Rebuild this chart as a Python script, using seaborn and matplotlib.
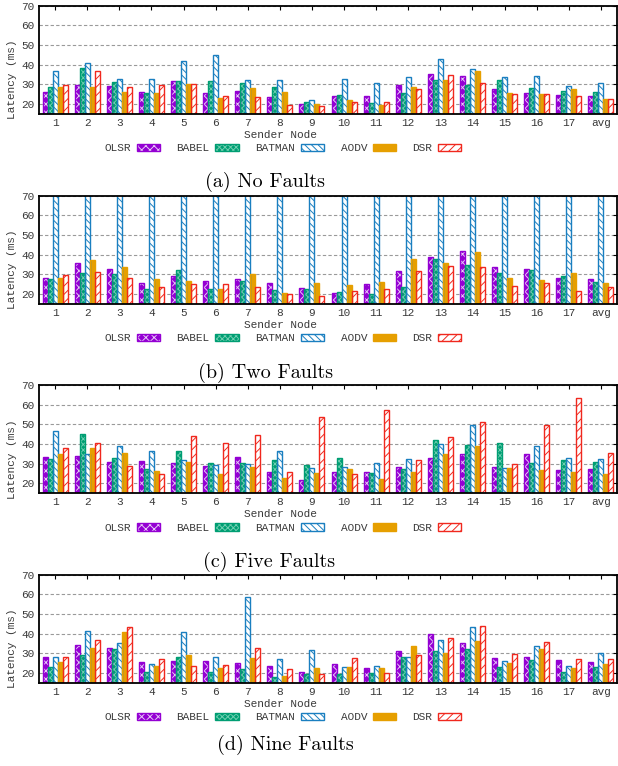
import matplotlib
matplotlib.use('Agg')
import matplotlib.pyplot as plt
import seaborn as sns
import pandas as pd
from matplotlib.legend_handler import HandlerTuple

# ---------------- data ----------------
nodes = ['1', '2', '3', '4', '5', '6', '7', '8', '9', '10', '11', '12', '13',
         '14', '15', '16', '17', 'avg']
protocols = ['OLSR', 'BABEL', 'BATMAN', 'AODV', 'DSR']

# (a) No Faults
olsr_a = [26.1, 29.6, 29.1, 26.1, 31.7, 25.6, 26.4, 23.5, 20.0, 23.9, 24.0, 29.8, 35.4, 34.2, 27.4, 25.7, 24.7, 24.0]
babel_a = [28.6, 38.2, 31.1, 25.6, 31.7, 31.7, 30.6, 28.6, 21.2, 24.4, 20.5, 25.6, 32.3, 29.8, 32.0, 28.1, 26.8, 25.9]
batman_a = [36.9, 40.6, 32.7, 32.7, 41.8, 44.7, 32.2, 32.2, 22.0, 32.5, 30.5, 33.7, 43.1, 37.6, 33.7, 34.0, 29.3, 30.6]
aodv_a = [28.4, 28.6, 26.2, 25.6, 30.0, 23.0, 28.1, 26.2, 19.7, 22.0, 19.2, 28.6, 32.0, 36.7, 25.6, 25.2, 27.4, 22.7]
dsr_a = [29.6, 36.5, 28.6, 29.6, 30.0, 24.2, 23.5, 19.5, 19.0, 21.2, 21.0, 27.8, 34.7, 30.6, 25.1, 25.1, 24.0, 22.7]

# (b) Two Faults (BATMAN is off the scale)
olsr_b = [28.1, 35.7, 32.7, 25.6, 29.2, 26.6, 27.6, 25.4, 22.9, 20.3, 24.8, 31.9, 38.6, 42.0, 33.7, 32.9, 28.1, 27.6]
babel_b = [27.6, 30.8, 30.0, 22.5, 32.0, 22.5, 26.6, 22.2, 22.5, 21.0, 20.0, 23.6, 37.8, 34.9, 30.7, 32.4, 29.3, 26.1]
batman_b = [75, 75, 75, 75, 75, 75, 75, 75, 75, 75, 75, 75, 75, 75, 75, 75, 75, 75]
aodv_b = [28.3, 37.0, 33.6, 27.6, 26.6, 22.5, 30.0, 20.2, 25.6, 24.6, 25.8, 37.8, 35.7, 41.5, 28.1, 27.3, 30.7, 25.6]
dsr_b = [29.7, 31.3, 28.1, 23.4, 24.9, 24.9, 23.6, 19.8, 19.0, 21.4, 22.5, 31.5, 34.2, 33.6, 23.9, 25.6, 21.4, 23.6]

# (c) Five Faults
olsr_c = [33.2, 33.9, 30.8, 31.5, 30.2, 28.8, 33.2, 25.6, 21.7, 25.6, 25.9, 28.6, 32.7, 34.9, 28.6, 34.9, 26.8, 27.1]
babel_c = [32.2, 44.9, 32.7, 27.1, 36.4, 30.2, 30.2, 31.7, 29.2, 32.7, 25.1, 27.1, 41.9, 39.5, 40.3, 30.3, 31.9, 31.0]
batman_c = [46.6, 35.1, 39.0, 36.4, 31.7, 29.3, 29.7, 36.4, 28.1, 28.6, 30.2, 32.5, 39.8, 49.7, 27.6, 38.8, 32.7, 32.2]
aodv_c = [34.9, 37.8, 35.4, 26.1, 30.7, 24.9, 28.6, 22.9, 25.1, 27.1, 22.2, 25.9, 34.9, 39.0, 28.1, 26.8, 25.8, 24.9]
dsr_c = [38.1, 40.3, 28.8, 24.6, 44.1, 40.7, 44.4, 25.6, 53.6, 24.6, 57.1, 31.7, 43.4, 51.0, 30.0, 49.7, 63.4, 35.3]

# (d) Nine Faults
olsr_d = [28.0, 34.1, 32.5, 25.4, 25.9, 25.9, 24.9, 23.4, 20.7, 24.4, 22.4, 31.0, 39.7, 35.1, 27.6, 28.1, 26.4, 25.6]
babel_d = [23.2, 29.2, 32.0, 20.5, 28.0, 20.2, 21.9, 17.8, 19.3, 19.3, 20.0, 28.0, 31.0, 32.0, 22.9, 26.4, 20.5, 22.9]
batman_d = [28.0, 41.2, 35.3, 24.4, 41.0, 28.0, 58.5, 27.3, 31.9, 23.2, 23.7, 28.0, 36.6, 43.2, 25.9, 33.6, 23.7, 30.0]
aodv_d = [25.3, 32.9, 41.0, 23.6, 29.3, 22.5, 27.5, 18.5, 22.4, 23.0, 22.4, 33.7, 30.3, 36.3, 25.1, 32.2, 22.4, 24.7]
dsr_d = [28.3, 36.6, 43.2, 26.9, 23.4, 23.9, 32.5, 22.2, 19.3, 27.5, 19.8, 29.2, 37.6, 43.7, 29.5, 35.6, 26.9, 26.9]

captions = ['(a) No Faults', '(b) Two Faults', '(c) Five Faults', '(d) Nine Faults']
yticks = [20, 30, 40, 50, 60, 70]

panels = [
    [olsr_a, babel_a, batman_a, aodv_a, dsr_a],
    [olsr_b, babel_b, batman_b, aodv_b, dsr_b],
    [olsr_c, babel_c, batman_c, aodv_c, dsr_c],
    [olsr_d, babel_d, batman_d, aodv_d, dsr_d],
]

# ---------------- style ----------------
sns.set_theme(style='white')
plt.rcParams['font.family'] = ['Liberation Mono', 'DejaVu Sans Mono']
plt.rcParams['hatch.linewidth'] = 0.7

colors = {'OLSR': '#9400D3', 'BABEL': '#009E73', 'BATMAN': '#1A7FC0',
          'AODV': '#E69F00', 'DSR': '#F0281E'}
# face colour, hatch colour, hatch pattern
fill_style = {
    'OLSR': ('#9400D3', '#E8C8F8', 'xxxx'),
    'BABEL': ('#009E73', '#6FCFB0', 'xxxxxx'),
    'BATMAN': ('white', '#1A7FC0', '\\\\\\\\\\'),
    'AODV': ('#E69F00', '#E69F00', ''),
    'DSR': ('white', '#F0281E', '////'),
}
text_color = '#3a3a3a'

W, H = 618, 766
fig = plt.figure(figsize=(W / 100, H / 100), dpi=100)

# axes boxes in pixels: (top, bottom)
boxes = [(5.7, 113.7), (195.7, 303.7), (385.0, 493.3), (574.7, 682.7)]
ax_left, ax_right = 39, 617
caption_pos = [(265, 182), (266, 373), (269, 562), (285, 745)]

for i, (vals, (top, bot)) in enumerate(zip(panels, boxes)):
    ax = fig.add_axes([ax_left / W, 1 - bot / H, (ax_right - ax_left) / W, (bot - top) / H])
    rows = []
    for prot, series in zip(protocols, vals):
        for n, v in zip(nodes, series):
            rows.append({'node': n, 'protocol': prot, 'latency': v})
    df = pd.DataFrame(rows)

    sns.barplot(data=df, x='node', y='latency', hue='protocol', order=nodes,
                hue_order=protocols, palette=colors, saturation=1, width=0.78,
                errorbar=None, legend=False, ax=ax)
    for prot, cont in zip(protocols, ax.containers[:5]):
        face, hc, hatch = fill_style[prot]
        for p in cont:
            p.set_facecolor(face)
            p.set_edgecolor(hc)
            p.set_hatch(hatch)
            p.set_linewidth(0)
    sns.barplot(data=df, x='node', y='latency', hue='protocol', order=nodes,
                hue_order=protocols, palette=colors, saturation=1, width=0.78,
                errorbar=None, legend=False, fill=False, linewidth=1.0, ax=ax)

    ax.set_xlim(-0.5, 17.5)
    ax.set_ylim(15, 70)
    ax.set_yticks(yticks)
    ax.set_axisbelow(True)
    ax.yaxis.grid(True, linestyle=(0, (3, 2)), color='#9a9a9a', linewidth=0.8)
    ax.xaxis.grid(False)
    for s in ax.spines.values():
        s.set_color('black')
        s.set_linewidth(1.3)
    ax.tick_params(direction='in', length=3, width=0.8, top=True, right=True,
                   labelsize=8, labelcolor=text_color, color='black')
    ax.tick_params(axis='x', pad=3)
    ax.tick_params(axis='y', pad=3)

    ax.set_xlabel('Sender Node', fontsize=8, color=text_color)
    ax.xaxis.label.set_va('center')
    ax.xaxis.set_label_coords(0.417, -21 / (bot - top))
    ax.set_ylabel('Latency (ms)', fontsize=8, color=text_color)
    ax.yaxis.label.set_va('center')
    ax.yaxis.set_label_coords((12 - ax_left) / (ax_right - ax_left), 0.317)

    handles = [(c1[0], c2[0]) for c1, c2 in zip(ax.containers[:5], ax.containers[5:10])]
    ax.legend(handles=handles, labels=protocols, handler_map={tuple: HandlerTuple(ndivide=1)},
              loc='center', bbox_to_anchor=(0.422, -34.6 / (bot - top)), ncol=5,
              frameon=False, markerfirst=False, fontsize=8, handlelength=2.1,
              handleheight=0.65, handletextpad=0.5, columnspacing=1.5,
              labelcolor=text_color)

    cx, cy = caption_pos[i]
    fig.text(cx / W, 1 - cy / H, captions[i], fontfamily='cmr10', fontsize=14.5,
             ha='center', va='center', color='black')

fig.savefig('out.png', dpi=100)
